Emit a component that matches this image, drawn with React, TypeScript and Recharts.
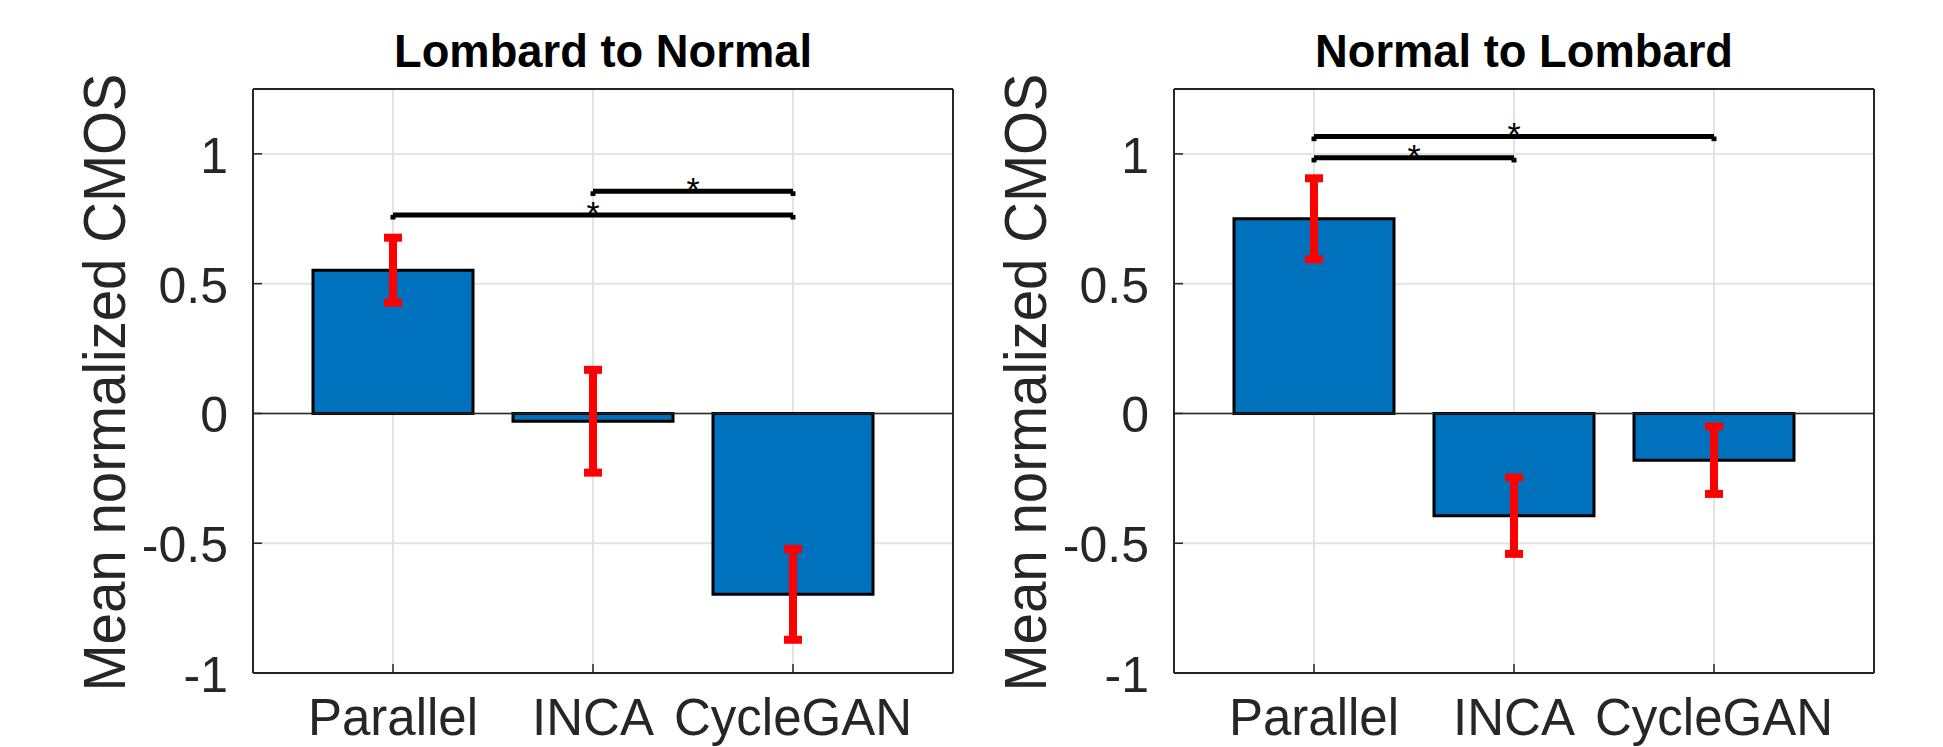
import React from "react"
import { BarChart, Bar, XAxis, YAxis, CartesianGrid, ErrorBar, ReferenceLine } from "recharts"

// data
const methods = ["Parallel", "INCA", "CycleGAN"]
const lombardToNormalMean = [0.552, -0.03, -0.697]
const lombardToNormalErr = [0.125, 0.198, 0.175]
const normalToLombardMean = [0.75, -0.394, -0.18]
const normalToLombardErr = [0.156, 0.147, 0.13]
const yTicks = [-1, -0.5, 0, 0.5, 1]
const lombardToNormalSig = [
  { from: "INCA", to: "CycleGAN", y: 0.856 },
  { from: "Parallel", to: "CycleGAN", y: 0.765 },
]
const normalToLombardSig = [
  { from: "Parallel", to: "INCA", y: 0.985 },
  { from: "Parallel", to: "CycleGAN", y: 1.067 },
]

const FONT = "'Liberation Sans', Arial, Helvetica, sans-serif"
const AXIS = "#262626"
const PANEL_W = 975
const PANEL_H = 747
const PANEL_SHIFT = 921

type Sig = { from: string; to: string; y: number }

const YTick = (props: any) => {
  const { x, y, payload } = props
  return (
    <text x={x} y={y} dy={19} textAnchor="end" fontSize={50} fill={AXIS} fontFamily={FONT}>
      {String(payload.value)}
    </text>
  )
}

const XTick = (props: any) => {
  const { x, y, payload } = props
  return (
    <text x={x} y={y} dy={71} textAnchor="middle" fontSize={51} fill={AXIS} fontFamily={FONT}>
      {payload.value}
    </text>
  )
}

const Star = (props: any) => {
  const vb = props.viewBox ?? props
  return (
    <text x={vb.x + vb.width / 2} y={vb.y + 10} textAnchor="middle" fontSize={34} fill="#000" fontFamily={FONT}>
      *
    </text>
  )
}

function Panel({ mean, err, sig }: { mean: number[]; err: number[]; sig: Sig[] }) {
  const rows = methods.map((m, i) => ({ name: m, value: mean[i], err: err[i] }))
  const pad = { left: 40, right: 60 }
  return (
    <BarChart width={PANEL_W} height={PANEL_H} data={rows} margin={{ top: 0, right: 0, bottom: 0, left: 0 }}>
      <CartesianGrid stroke="#e3e3e3" strokeWidth={2} />
      <XAxis
        dataKey="name"
        height={74}
        padding={pad}
        tickSize={-9}
        tickMargin={0}
        tick={<XTick />}
        axisLine={{ stroke: AXIS, strokeWidth: 2 }}
        tickLine={{ stroke: AXIS, strokeWidth: 1.5 }}
      />
      <XAxis
        xAxisId="top"
        orientation="top"
        dataKey="name"
        height={89}
        padding={pad}
        tickSize={-9}
        tick={false}
        axisLine={{ stroke: AXIS, strokeWidth: 2 }}
        tickLine={{ stroke: AXIS, strokeWidth: 1.5 }}
      />
      <YAxis
        type="number"
        width={253}
        domain={[-1, 1.25]}
        ticks={yTicks}
        allowDataOverflow
        tickSize={-9}
        tickMargin={34}
        tick={<YTick />}
        axisLine={{ stroke: AXIS, strokeWidth: 2 }}
        tickLine={{ stroke: AXIS, strokeWidth: 1.5 }}
      />
      <YAxis
        yAxisId="right"
        orientation="right"
        type="number"
        width={22}
        domain={[-1, 1.25]}
        ticks={yTicks}
        allowDataOverflow
        tickSize={-9}
        tick={false}
        axisLine={{ stroke: AXIS, strokeWidth: 2 }}
        tickLine={{ stroke: AXIS, strokeWidth: 1.5 }}
      />
      <ReferenceLine y={0} stroke={AXIS} strokeWidth={1.5} />
      <Bar dataKey="value" fill="#0072BD" stroke="#000" strokeWidth={3} barSize={160} isAnimationActive={false}>
        <ErrorBar dataKey="err" direction="y" width={9} stroke="#ff0000" strokeWidth={8} isAnimationActive={false} />
      </Bar>
      {sig.map((s, i) => (
        <ReferenceLine
          key={"h" + i}
          segment={[
            { x: s.from, y: s.y },
            { x: s.to, y: s.y },
          ]}
          stroke="#000"
          strokeWidth={5}
          ifOverflow="visible"
          label={Star}
        />
      ))}
      {sig.flatMap((s, i) => [
        <ReferenceLine
          key={"a" + i}
          segment={[
            { x: s.from, y: s.y },
            { x: s.from, y: s.y - 0.018 },
          ]}
          stroke="#000"
          strokeWidth={5}
          ifOverflow="visible"
        />,
        <ReferenceLine
          key={"b" + i}
          segment={[
            { x: s.to, y: s.y },
            { x: s.to, y: s.y - 0.018 },
          ]}
          stroke="#000"
          strokeWidth={5}
          ifOverflow="visible"
        />,
      ])}
    </BarChart>
  )
}

export default function App() {
  const titles = ["Lombard to Normal", "Normal to Lombard"]
  return (
    <div style={{ position: "absolute", left: 0, top: 0, width: 1943, height: 747, background: "#fff", overflow: "hidden" }}>
      <div style={{ position: "absolute", left: 0, top: 0 }}>
        <Panel mean={lombardToNormalMean} err={lombardToNormalErr} sig={lombardToNormalSig} />
      </div>
      <div style={{ position: "absolute", left: PANEL_SHIFT, top: 0 }}>
        <Panel mean={normalToLombardMean} err={normalToLombardErr} sig={normalToLombardSig} />
      </div>
      <svg width={1943} height={747} style={{ position: "absolute", left: 0, top: 0, pointerEvents: "none" }}>
        {titles.map((t, i) => (
          <g key={t}>
            <text
              x={603 + i * PANEL_SHIFT}
              y={66.7}
              textAnchor="middle"
              fontSize={47}
              fontWeight="bold"
              fontFamily={FONT}
              fill="#000"
              textLength={418}
              lengthAdjust="spacingAndGlyphs"
            >
              {t}
            </text>
            <text
              transform={`translate(${125 + i * PANEL_SHIFT},382.5) rotate(-90)`}
              textAnchor="middle"
              fontSize={59}
              fontFamily={FONT}
              fill={AXIS}
              textLength={618}
              lengthAdjust="spacingAndGlyphs"
            >
              Mean normalized CMOS
            </text>
          </g>
        ))}
      </svg>
    </div>
  )
}
